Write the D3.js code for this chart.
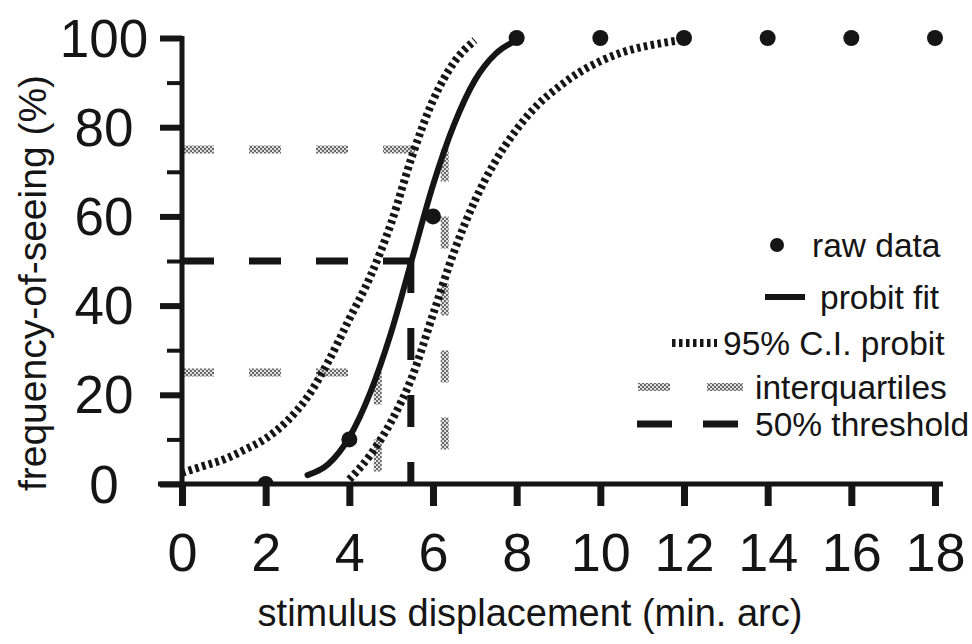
<!DOCTYPE html>
<html><head><meta charset="utf-8">
<script src="https://cdn.jsdelivr.net/npm/d3@7"></script>
<style>html,body{margin:0;padding:0;background:#fff;} svg{display:block;font-family:"Liberation Sans",Arial,sans-serif;}</style>
</head><body><svg id="chart" width="972" height="644"></svg>
<script>
// ---- data ----
const xTicks = [0, 2, 4, 6, 8, 10, 12, 14, 16, 18];
const yMajor = [0, 20, 40, 60, 80, 100];
const yMinor = [10, 30, 50, 70, 90];
const rawX = [2, 4, 6, 8, 10, 12, 14, 16, 18];
const rawY = [0, 10, 60, 100, 100, 100, 100, 100, 100];
const probitX = [3.0, 3.5, 4.0, 4.5, 5.0, 5.5, 6.0, 6.5, 7.0, 7.5, 8.0];
const probitY = [2.0, 4.5, 10.5, 20.5, 34, 50.5, 67, 80.5, 90.5, 96.5, 99.5];
const ciLeftX = [0, 0.5, 1.0, 1.5, 2.0, 2.5, 3.0, 3.5, 4.0, 4.5, 5.0, 5.5, 6.0, 6.5, 7.0];
const ciLeftY = [2.5, 4, 5.5, 7.7, 10.2, 14, 19.5, 27.5, 37, 46.5, 58.5, 73.5, 86, 94.5, 99.5];
const ciRightX = [4.0, 4.5, 5.0, 5.5, 6.0, 6.5, 7.0, 7.5, 8.0, 8.5, 9.0, 9.5, 10.0, 10.5, 11.0, 11.5, 11.9];
const ciRightY = [1, 6.5, 14, 24, 38, 52, 63.5, 72.5, 79.5, 85, 89, 92.3, 94.8, 96.7, 98, 98.9, 99.5];
const threshold50 = 5.47;
const quartileX = [4.68, 6.28];
const quartileY = [25, 75];
const legendLabels = ["raw data", "probit fit", "95% C.I. probit", "interquartiles", "50% threshold"];
const xTitle = "stimulus displacement (min. arc)";
const yTitle = "frequency-of-seeing (%)";

// ---- layout ----
const svg = d3.select("#chart");
const ink = "#151515";
const x = d3.scaleLinear().domain([0, 18]).range([182, 935]);
const y = d3.scaleLinear().domain([0, 100]).range([484, 38]);

const defs = svg.append("defs");
const pat = defs.append("pattern").attr("id", "chk").attr("width", 4).attr("height", 4).attr("patternUnits", "userSpaceOnUse");
pat.append("rect").attr("width", 4).attr("height", 4).attr("fill", "#dedede");
pat.append("rect").attr("width", 2).attr("height", 2).attr("fill", "#6a6a6a");
pat.append("rect").attr("x", 2).attr("y", 2).attr("width", 2).attr("height", 2).attr("fill", "#6a6a6a");
defs.append("clipPath").attr("id", "plotclip").append("rect")
  .attr("x", 0).attr("y", 0).attr("width", 972).attr("height", y(0));

// reference lines (interquartiles)
const refDash = "32,35";
quartileX.forEach((qx, i) => {
  const qy = quartileY[i];
  svg.append("line").attr("x1", x(0)).attr("x2", x(qx)).attr("y1", y(qy)).attr("y2", y(qy))
    .attr("stroke", "url(#chk)").attr("stroke-width", 8).attr("stroke-dasharray", refDash);
  svg.append("line").attr("x1", x(qx)).attr("x2", x(qx)).attr("y1", y(qy)).attr("y2", y(0))
    .attr("stroke", "url(#chk)").attr("stroke-width", 8).attr("stroke-dasharray", refDash);
});
// 50% threshold
svg.append("line").attr("x1", x(0)).attr("x2", x(threshold50)).attr("y1", y(50)).attr("y2", y(50))
  .attr("stroke", ink).attr("stroke-width", 7).attr("stroke-dasharray", refDash);
svg.append("line").attr("x1", x(threshold50)).attr("x2", x(threshold50)).attr("y1", y(50)).attr("y2", y(0))
  .attr("stroke", ink).attr("stroke-width", 7).attr("stroke-dasharray", refDash);

// curves
const line = d3.line().x(d => x(d[0])).y(d => y(d[1])).curve(d3.curveMonotoneX);
const zipPts = (a, b) => a.map((v, i) => [v, b[i]]);
svg.append("path").attr("d", line(zipPts(ciLeftX, ciLeftY))).attr("fill", "none")
  .attr("stroke", ink).attr("stroke-width", 8).attr("stroke-dasharray", "3.5,3.5");
svg.append("path").attr("d", line(zipPts(ciRightX, ciRightY))).attr("fill", "none")
  .attr("stroke", ink).attr("stroke-width", 8).attr("stroke-dasharray", "3.5,3.5");
svg.append("path").attr("d", line(zipPts(probitX, probitY))).attr("fill", "none")
  .attr("stroke", ink).attr("stroke-width", 6).attr("stroke-linecap", "round");

// raw data points
svg.append("g").attr("clip-path", "url(#plotclip)").selectAll("circle").data(zipPts(rawX, rawY)).join("circle")
  .attr("cx", d => x(d[0])).attr("cy", d => y(d[1])).attr("r", 8).attr("fill", ink);

// axes
const gx = svg.append("g").attr("transform", `translate(0,${y(0)})`)
  .call(d3.axisBottom(x).tickValues(xTicks).tickSize(22).tickPadding(27).tickFormat(d3.format("d")));
gx.select(".domain").remove();
gx.selectAll(".tick line").attr("stroke", ink).attr("stroke-width", 7);
gx.selectAll(".tick text").attr("fill", ink).attr("font-size", 54).attr("font-family", "Liberation Sans, Arial, sans-serif");

const gyMinor = svg.append("g").attr("transform", `translate(${x(0)},0)`)
  .call(d3.axisLeft(y).tickValues(yMinor).tickSize(15).tickFormat(""));
gyMinor.select(".domain").remove();
gyMinor.selectAll(".tick line").attr("stroke", ink).attr("stroke-width", 4);

const gy = svg.append("g").attr("transform", `translate(${x(0)},0)`)
  .call(d3.axisLeft(y).tickValues(yMajor).tickSize(22).tickFormat(d3.format("d")));
gy.select(".domain").remove();
gy.selectAll(".tick line").attr("stroke", ink).attr("stroke-width", 6);
gy.selectAll(".tick text").attr("fill", ink).attr("font-size", 53).attr("font-family", "Liberation Sans, Arial, sans-serif")
  .attr("text-anchor", "middle").attr("x", 104 - x(0)).attr("dy", "0.34em");

// axis lines
svg.append("line").attr("x1", x(0)).attr("x2", x(0)).attr("y1", y(100) - 2).attr("y2", y(0) + 21)
  .attr("stroke", ink).attr("stroke-width", 5);
svg.append("line").attr("x1", x(0) - 24).attr("x2", x(18) + 8).attr("y1", y(0)).attr("y2", y(0))
  .attr("stroke", ink).attr("stroke-width", 5);

// axis titles
svg.append("text").attr("x", 530).attr("y", 626).attr("text-anchor", "middle")
  .attr("font-size", 38).attr("fill", ink).text(xTitle);
svg.append("text").attr("transform", "translate(46,283) rotate(-90)").attr("text-anchor", "middle")
  .attr("font-size", 39).attr("fill", ink).text(yTitle);

// legend
const lg = svg.append("g").attr("font-size", 33.5).attr("fill", ink);
const rowY = [245, 297, 343, 387, 424];
const textX = [812, 820, 723, 755, 755];
legendLabels.forEach((t, i) => {
  lg.append("text").attr("x", textX[i]).attr("y", rowY[i]).attr("dy", "0.36em").text(t);
});
lg.append("circle").attr("cx", 777).attr("cy", rowY[0]).attr("r", 7).attr("fill", ink);
lg.append("line").attr("x1", 765).attr("x2", 805).attr("y1", rowY[1]).attr("y2", rowY[1]).attr("stroke", ink).attr("stroke-width", 6);
lg.append("line").attr("x1", 672).attr("x2", 717).attr("y1", rowY[2]).attr("y2", rowY[2]).attr("stroke", ink).attr("stroke-width", 8).attr("stroke-dasharray", "3.5,3.5");
[[638, 670], [707, 743]].forEach(s => lg.append("line").attr("x1", s[0]).attr("x2", s[1]).attr("y1", rowY[3]).attr("y2", rowY[3]).attr("stroke", "url(#chk)").attr("stroke-width", 8));
[[637, 672], [703, 738]].forEach(s => lg.append("line").attr("x1", s[0]).attr("x2", s[1]).attr("y1", rowY[4]).attr("y2", rowY[4]).attr("stroke", ink).attr("stroke-width", 7));
</script></body></html>
